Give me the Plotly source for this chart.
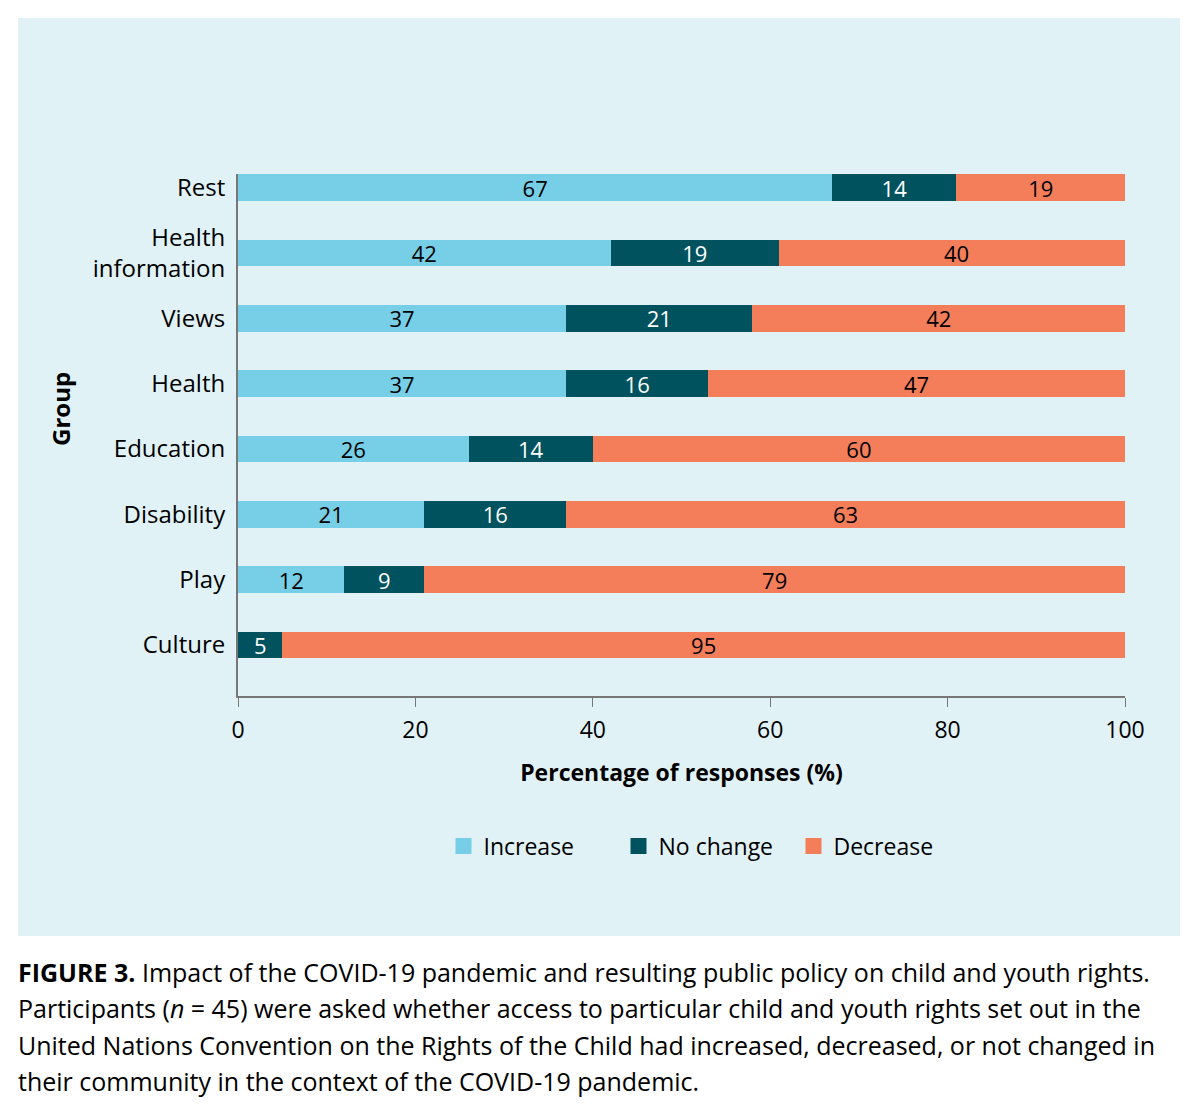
import plotly.graph_objects as go

groups = ["Culture", "Play", "Disability", "Education", "Health", "Views", "Health<br>information", "Rest"]
increase = [0, 12, 21, 26, 37, 37, 42, 67]
no_change = [5, 9, 16, 14, 16, 21, 19, 14]
decrease = [95, 79, 63, 60, 47, 42, 40, 19]
x_ticks = [0, 20, 40, 60, 80, 100]

FONT = "Open Sans"
C_INC = "#77CFE7"
C_NC = "#00535E"
C_DEC = "#F47E5A"
BG = "#E1F2F7"

# page has an 8px body margin; lay out in shifted coordinates
OFF = 8
L, T, PH = 238 - OFF, 174 - OFF, 522
W, H = 1200 - OFF, 1109 - OFF
PW = 887


def px_x(x):
    return (x - OFF - L) / PW


def px_y(y):
    return (T + PH - (y - OFF)) / PH


def labels(vals):
    return [str(v) if v > 0 else "" for v in vals]


fig = go.Figure()
series = [
    ("Increase", increase, C_INC, "black"),
    ("No change", no_change, C_NC, "white"),
    ("Decrease", decrease, C_DEC, "black"),
]
for name, vals, col, tcol in series:
    fig.add_trace(go.Bar(
        y=groups, x=vals, name=name, orientation="h",
        marker=dict(color=col, line=dict(width=0)),
        text=labels(vals), textposition="inside", insidetextanchor="middle",
        textangle=0, constraintext="none",
        textfont=dict(family=FONT, size=22, color=tcol),
        width=0.41, showlegend=False,
    ))
# legend entries with larger square swatches
for name, vals, col, tcol in series:
    fig.add_trace(go.Scatter(
        x=[None], y=[None], mode="markers", name=name,
        marker=dict(symbol="square", size=20, color=col),
        showlegend=True,
    ))

fig.update_layout(
    barmode="stack",
    width=W, height=H,
    margin=dict(l=L, r=W - L - PW, t=T, b=H - T - PH),
    paper_bgcolor="white", plot_bgcolor=BG,
    font=dict(family=FONT, size=22, color="black"),
    legend=dict(orientation="h", x=px_x(706), xanchor="center", y=px_y(846), yanchor="middle",
                font=dict(family=FONT, size=23), traceorder="normal", itemsizing="trace",
                entrywidth=130, entrywidthmode="pixels",
                bgcolor="rgba(0,0,0,0)"),
)
fig.update_xaxes(
    range=[0, 100], tickvals=x_ticks, ticks="outside", ticklen=9, tickcolor="#777777",
    showline=True, linecolor="#777777", linewidth=2, showgrid=False, zeroline=False,
    tickfont=dict(size=23), ticklabelstandoff=3,
    title=dict(text="<b>Percentage of responses (%)</b>", standoff=21, font=dict(size=23)),
)
fig.update_yaxes(
    range=[-0.78, 7.21], showline=True, linecolor="#777777", linewidth=2, showgrid=False,
    ticks="", tickfont=dict(size=24), ticklabelstandoff=6,
)

# y-axis title
fig.add_annotation(text="<b>Group</b>", xref="paper", yref="paper", showarrow=False,
                   x=px_x(60), xanchor="center", y=px_y(409), yanchor="middle",
                   textangle=-90, font=dict(family=FONT, size=24, color="black"))

# panel background
fig.add_shape(type="rect", xref="paper", yref="paper", layer="below",
              x0=px_x(18), x1=px_x(1180), y0=px_y(936), y1=px_y(18),
              fillcolor=BG, line=dict(width=0))

caption = [
    "<b>FIGURE 3.</b> Impact of the COVID-19 pandemic and resulting public policy on child and youth rights.",
    "Participants (<i>n</i> = 45) were asked whether access to particular child and youth rights set out in the",
    "United Nations Convention on the Rights of the Child had increased, decreased, or not changed in",
    "their community in the context of the COVID-19 pandemic.",
]
cap_y = [972, 1008, 1045, 1081]
for line, yy in zip(caption, cap_y):
    fig.add_annotation(text=line, xref="paper", yref="paper", showarrow=False,
                       x=px_x(18), xanchor="left", xshift=-2,
                       y=px_y(yy), yanchor="middle",
                       font=dict(family=FONT, size=25, color="black"))

fig.write_html("out.html")
